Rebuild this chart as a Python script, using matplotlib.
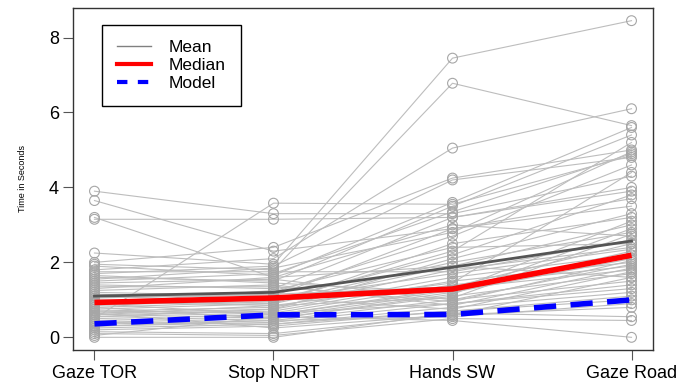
import numpy as np
import matplotlib
matplotlib.use("Agg")
import matplotlib.pyplot as plt

plt.rcParams["font.family"] = ["Liberation Sans", "DejaVu Sans"]

# conditions on the x axis
conditions = ["Gaze TOR", "Stop NDRT", "Hands SW", "Gaze Road"]

# one value per subject and condition (seconds)
gaze_tor = [3.9, 3.65, 3.2, 3.15, 0.5, 2.25, 1.95, 1.8, 2.0, 1.7, 1.6, 1.5, 1.4, 1.3,
            1.2, 1.1, 1.0, 0.9, 0.85, 0.8, 0.75, 0.7, 0.65, 0.6, 0.55, 0.5, 0.45, 0.4,
            0.35, 0.3, 0.25, 0.2, 0.15, 0.1, 0.05, 0.0, 1.75, 1.65, 1.45, 1.35, 1.25,
            1.15, 1.05, 0.95, 0.9, 0.8, 0.7, 0.6, 0.55, 0.4, 0.3, 1.9, 1.55, 0.65, 0.95, 1.1]
stop_ndrt = [3.3, 2.3, 1.6, 3.15, 3.58, 1.95, 1.8, 2.1, 2.4, 1.9, 1.5, 1.7, 1.3, 1.6,
             1.1, 1.2, 0.9, 1.25, 1.0, 0.95, 0.9, 0.8, 0.75, 0.7, 0.65, 0.6, 0.55, 0.5,
             0.45, 0.4, 0.35, 0.3, 0.1, 0.05, 0.55, 0.0, 1.75, 1.45, 1.55, 1.35, 1.4,
             1.05, 1.15, 0.85, 0.6, 0.5, 0.65, 0.85, 0.75, 0.35, 0.45, 1.65, 1.85, 0.25, 1.0, 0.95]
hands_sw = [3.3, 2.9, 1.9, 3.2, 3.55, 7.45, 6.78, 5.05, 4.25, 4.2, 3.5, 3.35, 3.2, 3.0,
            2.9, 2.7, 2.5, 2.4, 2.2, 2.0, 1.9, 1.8, 1.6, 1.5, 1.4, 1.3, 1.2, 1.1,
            1.0, 0.9, 0.8, 0.7, 0.6, 0.5, 0.45, 0.65, 1.75, 1.2, 1.0, 0.95, 0.85,
            0.75, 1.35, 1.05, 1.25, 1.15, 0.9, 1.45, 2.1, 0.7, 0.55, 3.6, 2.8, 0.6, 1.7, 2.3]
gaze_road = [4.3, 3.7, 3.0, 3.9, 4.85, 8.45, 5.65, 6.1, 5.0, 4.8, 5.4, 4.9, 4.0, 2.7,
             3.5, 4.6, 3.2, 2.5, 3.8, 2.8, 1.6, 2.4, 2.2, 2.0, 1.9, 1.8, 2.3, 1.7,
             1.5, 1.4, 1.2, 1.1, 0.8, 0.45, 0.0, 0.55, 2.6, 2.1, 1.95, 2.05, 1.85,
             1.75, 2.5, 2.75, 3.1, 2.9, 1.3, 4.4, 3.3, 1.0, 0.9, 5.6, 4.95, 1.6, 2.35, 5.2]

# summary lines
mean_vals = [1.1, 1.2, 1.87, 2.57]
median_vals = [0.93, 1.05, 1.29, 2.19]
model_vals = [0.36, 0.60, 0.61, 1.00]

x = np.arange(1, len(conditions) + 1)
subjects = np.array([gaze_tor, stop_ndrt, hands_sw, gaze_road]).T

fig = plt.figure(figsize=(6.93, 3.82), dpi=100)
ax = fig.add_axes([73 / 693, 1 - 350 / 382, 580 / 693, 342 / 382])

for row in subjects:
    ax.plot(x, row, color="#bdbdbd", lw=0.8, zorder=1)
    ax.scatter(x, row, s=50, facecolors="none", edgecolors="#a6a6a6", lw=0.8, zorder=2)

ax.plot(x, mean_vals, color="#555555", lw=2, zorder=3)
ax.plot(x, median_vals, color="red", lw=4, zorder=4, solid_capstyle="butt")
ax.plot(x, model_vals, color="blue", lw=4, ls=(0, (4, 2.6)), zorder=4)

# legend entries (Mean shown as thin grey line as in the original)
ax.plot([], [], color="#808080", lw=1, label="Mean")
ax.plot([], [], color="red", lw=3, label="Median")
ax.plot([], [], color="blue", lw=3, ls=(0, (2.5, 2.5)), label="Model")
handles, labels = ax.get_legend_handles_labels()
leg = ax.legend(handles, labels, loc="upper left",
                bbox_to_anchor=((102 - 73) / 580, 1 - (25 - 8) / 342),
                fancybox=False, framealpha=1, edgecolor="black", fontsize=12.5,
                handlelength=2.0, handletextpad=1.0, labelspacing=0.18,
                borderpad=0.85, borderaxespad=0)
leg.get_frame().set_linewidth(1.0)

ax.set_xlim(0.88, 4.12)
ax.set_ylim(-0.338, 8.788)
ax.set_xticks(x)
ax.set_xticklabels(conditions, fontsize=13)
ax.set_yticks([0, 2, 4, 6, 8])
ax.tick_params(axis="y", labelsize=13, length=7, color="#555555", pad=3)
ax.tick_params(axis="x", length=7, color="#555555", pad=4)
ax.set_ylabel("Time in Seconds", fontsize=6.5, labelpad=16)

for sp in ax.spines.values():
    sp.set_color("#333333")
    sp.set_linewidth(1.0)

fig.savefig("out.png", dpi=100)
